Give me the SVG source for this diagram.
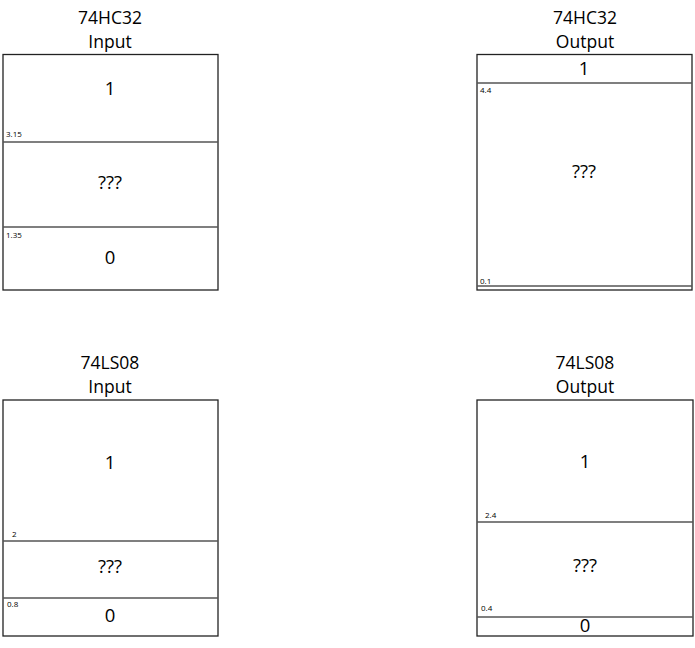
<svg xmlns="http://www.w3.org/2000/svg" width="695" height="648" viewBox="0 0 695 648">
<style>
.bg{fill:#fff}
.box{fill:#fff;stroke:#222;stroke-width:1.3}
.div{stroke:#555;stroke-width:1.3;fill:none}
.t{font-family:"Open Sans","Liberation Sans",sans-serif;font-size:17.5px;fill:#000;text-anchor:middle}
.v{font-family:"Open Sans","Liberation Sans",sans-serif;font-size:18.5px;fill:#000;text-anchor:middle}
.s{font-family:"Open Sans","Liberation Sans",sans-serif;font-size:8px;fill:#000}
</style>
<rect class="bg" width="695" height="648"/>
<g id="hc32-input">
<text class="t" x="110" y="24">74HC32</text>
<text class="t" x="110" y="48">Input</text>
<rect class="box" x="3" y="54.5" width="215" height="235.5"/>
<line class="div" x1="3" y1="142" x2="218" y2="142"/>
<line class="div" x1="3" y1="227" x2="218" y2="227"/>
<text class="v" x="110" y="95">1</text>
<text class="v" x="110" y="189">???</text>
<text class="v" x="110" y="264">0</text>
<text class="s" x="6" y="137">3.15</text>
<text class="s" x="6" y="238">1.35</text>
</g>
<g id="hc32-output">
<text class="t" x="585" y="24">74HC32</text>
<text class="t" x="585" y="48">Output</text>
<rect class="box" x="477" y="54.5" width="215" height="235.5"/>
<line class="div" x1="477" y1="83" x2="692" y2="83"/>
<line class="div" x1="477" y1="286" x2="692" y2="286"/>
<text class="v" x="584" y="75">1</text>
<text class="v" x="584" y="178">???</text>
<text class="s" x="480" y="93">4.4</text>
<text class="s" x="480" y="284">0.1</text>
</g>
<g id="ls08-input">
<text class="t" x="110" y="369">74LS08</text>
<text class="t" x="110" y="393">Input</text>
<rect class="box" x="3" y="400" width="215" height="236"/>
<line class="div" x1="3" y1="541" x2="218" y2="541"/>
<line class="div" x1="3" y1="598" x2="218" y2="598"/>
<text class="v" x="110" y="469">1</text>
<text class="v" x="110" y="573">???</text>
<text class="v" x="110" y="622">0</text>
<text class="s" x="12" y="537">2</text>
<text class="s" x="7" y="607">0.8</text>
</g>
<g id="ls08-output">
<text class="t" x="585" y="369">74LS08</text>
<text class="t" x="585" y="393">Output</text>
<rect class="box" x="477" y="400" width="216" height="236"/>
<line class="div" x1="477" y1="522" x2="693" y2="522"/>
<line class="div" x1="477" y1="617" x2="693" y2="617"/>
<text class="v" x="585" y="468">1</text>
<text class="v" x="585" y="572">???</text>
<text class="v" x="585" y="632">0</text>
<text class="s" x="485" y="518">2.4</text>
<text class="s" x="481" y="611">0.4</text>
</g>
<g id="connectors"></g>
</svg>
